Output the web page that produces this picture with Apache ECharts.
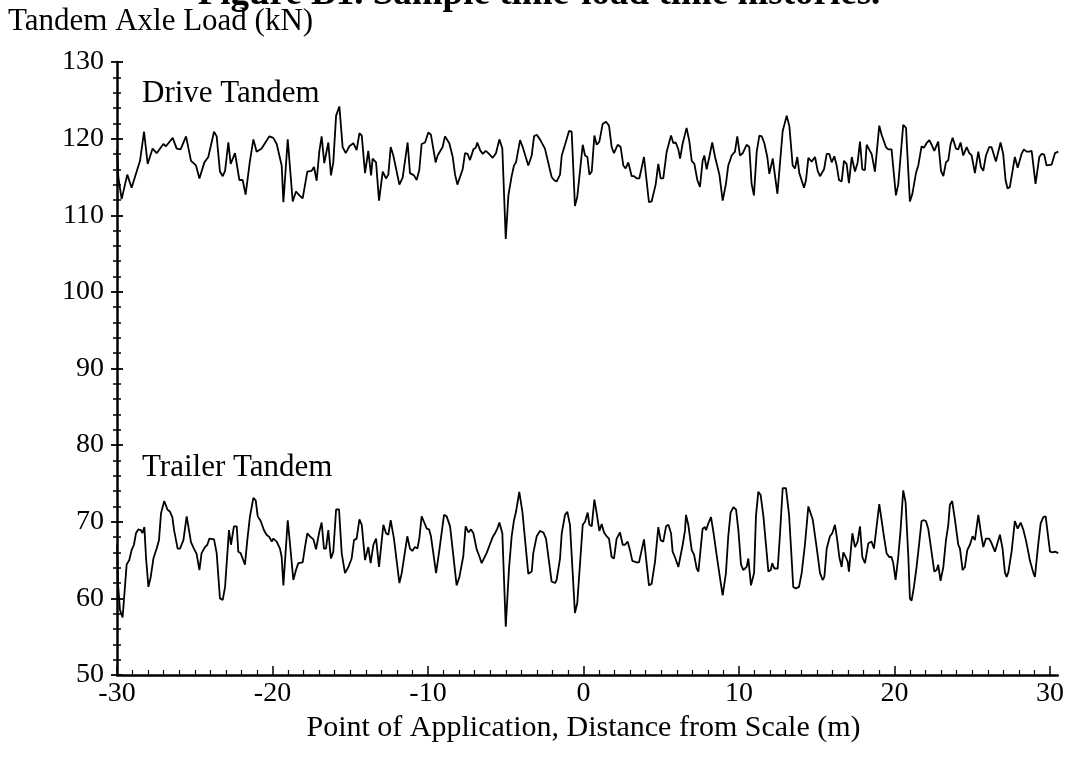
<!DOCTYPE html>
<html>
<head>
<meta charset="utf-8">
<script src="https://cdn.jsdelivr.net/npm/echarts@6/dist/echarts.min.js"></script>
<style>
html, body { margin: 0; padding: 0; background: #ffffff; }
#chart { width: 1072px; height: 769px; }
</style>
</head>
<body>
<div id="chart"></div>
<script>
// Drive tandem axle load along the approach to the scale
const driveDistance = [
  -30.00, -29.91, -29.70, -29.34, -29.06, -28.95, -28.52, -28.26, -28.03, -27.71,
  -27.45, -27.02, -26.85, -26.42, -26.16, -25.91, -25.56, -25.24, -24.92, -24.70,
  -24.38, -24.13, -23.76, -23.59, -23.38, -23.20, -23.05, -22.84, -22.69, -22.41,
  -22.13, -21.92, -21.73, -21.45, -21.23, -21.02, -20.70, -20.20, -19.95, -19.73,
  -19.41, -19.30, -19.02, -18.70, -18.49, -18.27, -18.06, -17.76, -17.48, -17.33,
  -17.16, -16.99, -16.84, -16.67, -16.56, -16.41, -16.24, -16.09, -15.91, -15.70,
  -15.49, -15.29, -15.06, -14.80, -14.59, -14.41, -14.26, -14.05, -13.84, -13.66,
  -13.56, -13.34, -13.15, -12.91, -12.70, -12.55, -12.40, -12.23, -11.84, -11.63,
  -11.31, -11.16, -10.90, -10.73, -10.56, -10.41, -10.19, -9.98, -9.81, -9.51,
  -9.38, -9.06, -8.91, -8.63, -8.41, -8.26, -8.11, -7.77, -7.62, -7.45,
  -7.30, -7.08, -6.93, -6.83, -6.65, -6.48, -6.29, -6.12, -6.01, -5.84,
  -5.63, -5.41, -5.22, -5.00, -4.83, -4.62, -4.47, -4.34, -4.08, -3.91,
  -3.55, -3.33, -3.18, -3.01, -2.80, -2.48, -2.37, -2.05, -1.90, -1.73,
  -1.51, -1.40, -1.19, -0.93, -0.76, -0.55, -0.40, -0.05, 0.10, 0.25,
  0.38, 0.53, 0.70, 0.85, 1.02, 1.23, 1.45, 1.64, 1.81, 1.96,
  2.20, 2.39, 2.56, 2.71, 2.88, 3.10, 3.25, 3.42, 3.59, 3.89,
  4.21, 4.38, 4.64, 4.81, 4.96, 5.13, 5.35, 5.63, 5.78, 5.93,
  6.10, 6.21, 6.38, 6.63, 6.81, 6.96, 7.13, 7.32, 7.49, 7.66,
  7.77, 7.92, 8.09, 8.28, 8.46, 8.74, 8.95, 9.16, 9.31, 9.53,
  9.74, 9.89, 10.06, 10.24, 10.49, 10.66, 10.81, 10.96, 11.14, 11.31,
  11.46, 11.63, 11.82, 11.95, 12.17, 12.47, 12.81, 13.07, 13.24, 13.45,
  13.60, 13.75, 13.88, 14.18, 14.31, 14.46, 14.67, 14.89, 15.06, 15.21,
  15.47, 15.64, 15.81, 15.96, 16.13, 16.28, 16.43, 16.60, 16.75, 16.92,
  17.07, 17.25, 17.35, 17.46, 17.63, 17.78, 17.93, 18.10, 18.21, 18.42,
  18.53, 18.74, 19.02, 19.17, 19.45, 19.60, 19.81, 20.09, 20.24, 20.56,
  20.74, 20.99, 21.14, 21.38, 21.53, 21.74, 21.89, 22.06, 22.24, 22.39,
  22.56, 22.81, 22.99, 23.14, 23.31, 23.46, 23.61, 23.74, 23.95, 24.10,
  24.25, 24.42, 24.64, 24.81, 24.96, 25.17, 25.39, 25.56, 25.71, 25.88,
  26.09, 26.24, 26.52, 26.82, 26.99, 27.14, 27.27, 27.42, 27.74, 27.92,
  28.17, 28.32, 28.49, 28.67, 28.82, 29.07, 29.31, 29.46, 29.63, 29.78,
  30.10, 30.32, 30.53
];
const driveLoad = [
  118.5, 114.9, 112.1, 115.3, 113.6, 113.7, 117.1, 120.9, 116.7, 118.7,
  118.1, 119.3, 119.0, 120.1, 118.7, 118.6, 120.3, 117.1, 116.5, 114.8,
  116.9, 117.6, 120.9, 120.3, 115.7, 115.1, 115.8, 119.5, 116.7, 118.1,
  114.6, 114.6, 112.7, 117.1, 119.9, 118.3, 118.7, 120.3, 120.1, 119.3,
  116.5, 111.7, 119.9, 111.8, 113.1, 112.6, 112.2, 115.7, 115.8, 116.3,
  114.5, 118.3, 120.3, 116.8, 116.9, 119.5, 115.2, 116.9, 123.0, 124.2,
  118.9, 118.1, 119.0, 119.4, 118.5, 120.7, 120.4, 115.5, 118.4, 115.2,
  117.4, 116.9, 111.9, 115.7, 114.8, 115.3, 118.9, 117.8, 114.0, 114.9,
  119.5, 115.5, 115.2, 114.6, 115.9, 119.3, 119.5, 120.8, 120.5, 116.9,
  117.8, 118.9, 120.3, 119.4, 117.6, 115.3, 114.0, 116.0, 118.1, 118.0,
  117.2, 118.6, 118.8, 119.5, 118.5, 118.0, 118.4, 118.1, 117.9, 117.5,
  118.1, 119.9, 118.7, 106.9, 112.6, 115.1, 116.5, 116.9, 119.8, 118.9,
  116.5, 117.8, 120.3, 120.5, 119.9, 118.7, 118.7, 115.0, 114.6, 114.4,
  115.3, 117.8, 119.2, 121.0, 120.9, 111.2, 112.4, 119.2, 117.8, 117.6,
  115.3, 115.7, 120.4, 119.2, 119.6, 121.9, 122.2, 121.7, 118.9, 118.1,
  119.2, 118.9, 116.5, 116.1, 116.9, 115.1, 115.1, 114.8, 114.8, 117.6,
  111.7, 111.8, 114.0, 116.7, 114.8, 114.8, 118.3, 120.4, 119.4, 119.5,
  118.6, 117.4, 119.4, 121.4, 119.6, 117.1, 116.7, 114.6, 113.7, 117.1,
  117.8, 116.0, 117.6, 119.5, 117.6, 115.3, 111.9, 114.1, 116.5, 117.8,
  118.3, 120.3, 117.8, 118.1, 119.2, 118.9, 114.1, 112.6, 118.3, 120.4,
  120.3, 119.4, 117.6, 115.4, 117.4, 112.8, 121.0, 123.0, 121.6, 116.5,
  116.1, 117.6, 115.5, 113.6, 114.6, 117.5, 117.0, 117.6, 115.8, 115.1,
  116.0, 118.0, 118.0, 116.9, 117.7, 116.5, 114.6, 114.4, 117.1, 116.7,
  114.2, 117.6, 117.8, 115.7, 116.9, 119.6, 116.0, 115.9, 119.2, 118.4,
  118.0, 115.7, 121.7, 120.5, 118.9, 118.6, 118.6, 112.6, 114.0, 121.8,
  121.4, 111.8, 112.7, 115.5, 116.5, 119.0, 118.8, 119.4, 119.8, 119.2,
  118.4, 119.6, 115.8, 115.1, 116.9, 117.2, 119.3, 120.1, 118.7, 118.6,
  119.5, 117.8, 118.9, 118.1, 117.8, 115.5, 118.3, 116.3, 115.8, 117.8,
  118.9, 118.9, 117.0, 119.5, 118.0, 114.6, 113.5, 113.7, 117.6, 116.2,
  118.0, 118.6, 118.3, 118.3, 118.4, 114.1, 117.6, 118.0, 117.9, 116.5,
  116.6, 118.1, 118.3
];

// Trailer tandem axle load along the approach to the scale
const trailerDistance = [
  -30.00, -29.92, -29.81, -29.64, -29.38, -29.21, -29.06, -28.91, -28.78, -28.63,
  -28.46, -28.37, -28.24, -28.13, -27.98, -27.83, -27.66, -27.45, -27.30, -27.17,
  -26.96, -26.76, -26.59, -26.44, -26.33, -26.10, -25.95, -25.73, -25.52, -25.37,
  -25.24, -25.05, -24.88, -24.70, -24.56, -24.34, -24.19, -24.06, -23.98, -23.76,
  -23.59, -23.38, -23.20, -23.05, -22.80, -22.67, -22.48, -22.30, -22.20, -22.05,
  -21.92, -21.77, -21.62, -21.45, -21.23, -21.08, -20.95, -20.76, -20.55, -20.38,
  -20.20, -20.05, -19.95, -19.73, -19.52, -19.41, -19.30, -19.02, -18.87, -18.66,
  -18.49, -18.34, -18.23, -18.06, -17.91, -17.76, -17.59, -17.37, -17.20, -16.99,
  -16.84, -16.69, -16.56, -16.41, -16.30, -16.24, -16.09, -15.91, -15.72, -15.55,
  -15.34, -15.12, -14.91, -14.76, -14.59, -14.41, -14.26, -14.05, -13.84, -13.69,
  -13.51, -13.34, -13.15, -12.87, -12.70, -12.55, -12.40, -12.19, -11.84, -11.69,
  -11.33, -11.16, -11.01, -10.83, -10.68, -10.56, -10.41, -10.26, -10.08, -9.93,
  -9.81, -9.48, -9.27, -8.97, -8.80, -8.58, -8.16, -7.98, -7.73, -7.58,
  -7.40, -7.23, -7.08, -6.87, -6.70, -6.55, -6.44, -6.23, -6.01, -5.84,
  -5.69, -5.54, -5.41, -5.22, -5.00, -4.79, -4.62, -4.47, -4.34, -4.13,
  -3.93, -3.55, -3.33, -3.23, -3.01, -2.80, -2.58, -2.41, -2.05, -1.83,
  -1.73, -1.51, -1.40, -1.19, -1.04, -0.87, -0.55, -0.40, -0.05, 0.10,
  0.27, 0.38, 0.53, 0.70, 0.85, 1.02, 1.17, 1.32, 1.49, 1.64,
  1.81, 1.96, 2.13, 2.35, 2.52, 2.67, 2.84, 2.99, 3.14, 3.25,
  3.42, 3.57, 3.89, 4.21, 4.38, 4.60, 4.81, 4.96, 5.13, 5.31,
  5.46, 5.63, 5.73, 5.88, 6.10, 6.21, 6.38, 6.53, 6.59, 6.74,
  6.96, 7.11, 7.28, 7.39, 7.49, 7.66, 7.81, 7.88, 8.03, 8.20,
  8.35, 8.61, 8.78, 8.95, 9.16, 9.31, 9.46, 9.64, 9.81, 9.96,
  10.13, 10.28, 10.49, 10.60, 10.77, 10.97, 11.09, 11.24, 11.39, 11.57,
  11.89, 12.04, 12.14, 12.27, 12.49, 12.64, 12.81, 13.02, 13.22, 13.49,
  13.66, 13.86, 14.03, 14.24, 14.46, 14.57, 14.74, 14.99, 15.21, 15.38,
  15.49, 15.64, 15.85, 16.00, 16.17, 16.32, 16.45, 16.60, 16.71, 16.86,
  16.99, 17.07, 17.29, 17.46, 17.63, 17.78, 17.93, 18.10, 18.32, 18.42,
  18.53, 18.68, 18.85, 19.02, 19.17, 19.32, 19.49, 19.66, 19.81, 19.92,
  20.07, 20.24, 20.39, 20.56, 20.71, 20.89, 20.99, 21.10, 21.25, 21.42,
  21.59, 21.74, 21.89, 22.02, 22.17, 22.34, 22.56, 22.71, 22.81, 22.96,
  23.14, 23.31, 23.46, 23.56, 23.71, 23.89, 24.10, 24.21, 24.38, 24.53,
  24.68, 24.85, 25.02, 25.17, 25.39, 25.56, 25.71, 25.88, 26.07, 26.20,
  26.46, 26.78, 26.95, 27.10, 27.21, 27.32, 27.53, 27.74, 27.92, 28.11,
  28.28, 28.45, 28.60, 28.71, 28.82, 28.92, 29.03, 29.14, 29.25, 29.40,
  29.57, 29.72, 30.00, 30.17, 30.32, 30.53
];
const trailerLoad = [
  67.0, 61.5, 58.5, 57.5, 64.4, 65.0, 66.3, 67.0, 68.5, 69.0,
  68.9, 68.5, 69.3, 65.2, 61.5, 62.8, 65.2, 66.5, 67.6, 71.1,
  72.7, 71.6, 71.3, 70.6, 68.9, 66.5, 66.5, 67.6, 70.7, 68.9,
  67.3, 66.5, 65.8, 63.7, 65.9, 66.7, 67.0, 67.8, 67.7, 67.7,
  65.9, 60.0, 59.8, 61.5, 68.9, 67.0, 69.4, 69.4, 66.1, 65.9,
  65.2, 64.4, 67.6, 70.7, 73.1, 72.8, 70.7, 70.1, 68.9, 68.3,
  68.0, 67.4, 67.8, 67.4, 66.5, 65.4, 61.7, 70.2, 67.0, 62.4,
  63.7, 64.6, 64.7, 64.7, 66.7, 68.5, 68.1, 67.7, 66.4, 68.7,
  69.9, 66.5, 66.5, 68.9, 66.3, 65.2, 66.1, 71.6, 71.6, 65.9,
  63.3, 64.1, 65.2, 67.6, 67.8, 70.3, 69.6, 65.0, 66.7, 64.6,
  67.0, 67.8, 64.1, 69.6, 68.5, 68.3, 70.2, 67.8, 62.0, 63.3,
  68.1, 66.5, 66.2, 66.7, 66.5, 67.8, 70.7, 70.0, 69.1, 69.0,
  68.1, 63.3, 66.3, 70.9, 70.7, 69.4, 61.7, 62.8, 65.5, 69.4,
  68.6, 69.0, 68.5, 66.4, 65.5, 64.6, 64.6, 65.9, 67.1, 68.0,
  68.5, 69.1, 69.9, 68.5, 56.3, 63.9, 68.1, 70.2, 71.3, 73.9,
  71.3, 63.2, 63.5, 65.9, 68.1, 68.8, 68.6, 67.8, 62.2, 62.0,
  62.4, 65.2, 68.5, 70.9, 71.3, 69.6, 58.1, 59.4, 69.6, 70.0,
  71.2, 69.6, 69.4, 72.9, 71.1, 68.8, 69.7, 68.6, 68.1, 67.8,
  65.4, 65.2, 67.8, 68.6, 67.0, 67.0, 67.4, 66.3, 64.9, 64.9,
  64.7, 64.7, 67.7, 61.7, 61.9, 64.8, 69.3, 67.6, 67.4, 69.4,
  69.6, 68.5, 66.1, 65.4, 64.1, 64.0, 67.0, 68.9, 70.9, 69.6,
  66.3, 65.7, 63.9, 63.5, 63.7, 69.1, 69.3, 68.9, 69.8, 70.6,
  68.7, 65.0, 62.6, 60.4, 63.3, 68.1, 71.2, 71.9, 71.6, 68.9,
  64.4, 63.7, 64.1, 65.2, 61.7, 63.3, 70.7, 73.9, 73.5, 70.7,
  63.5, 63.7, 64.6, 63.9, 63.9, 68.5, 74.4, 74.4, 70.9, 61.5,
  61.3, 61.5, 63.3, 67.0, 72.0, 71.9, 70.3, 66.7, 63.3, 62.4,
  62.8, 66.5, 68.1, 68.5, 69.6, 67.6, 65.4, 64.1, 66.0, 65.4,
  64.8, 63.5, 68.5, 66.7, 67.4, 69.4, 65.4, 64.6, 67.2, 67.2,
  67.4, 66.5, 69.4, 72.3, 70.2, 68.1, 65.9, 65.4, 65.4, 64.6,
  62.4, 65.4, 68.9, 74.1, 72.6, 65.4, 60.0, 59.7, 61.5, 64.1,
  67.2, 70.1, 70.2, 70.1, 69.1, 66.7, 63.5, 63.7, 64.4, 62.3,
  64.1, 67.6, 69.6, 72.2, 72.7, 70.2, 67.0, 66.5, 63.7, 64.1,
  66.3, 67.0, 68.1, 67.6, 70.9, 68.5, 66.7, 67.8, 67.8, 67.4,
  66.1, 68.3, 66.5, 63.4, 62.8, 63.4, 66.1, 70.1, 69.1, 69.9,
  69.0, 67.6, 66.1, 64.9, 64.8, 63.4, 62.8, 62.8, 67.2, 69.8,
  70.6, 70.7, 66.1, 66.0, 66.1, 65.9
];

// Axis ranges and labelled ticks
const distanceTicks = [-30, -20, -10, 0, 10, 20, 30];
const loadTicks = [50, 60, 70, 80, 90, 100, 110, 120, 130];

const serifFont = '"Liberation Serif", "Times New Roman", serif';
const zip = (xs, ys) => xs.map((x, i) => [x, ys[i]]);

// Plot frame in pixels
const plotLeft = 117;
const plotTop = 62;
const plotHeight = 613;
const tickSpanWidth = 933;
const pxPerMetre = tickSpanWidth / (distanceTicks[distanceTicks.length - 1] - distanceTicks[0]);
const dataMax = 30.5;
const dataWidth = pxPerMetre * (dataMax - distanceTicks[0]);

const chart = echarts.init(document.getElementById('chart'), null, { renderer: 'canvas' });

const plainText = (size) => ({ fontFamily: serifFont, fontWeight: 'normal', fontSize: size, color: '#000' });

const option = {
  backgroundColor: '#ffffff',
  animation: false,
  textStyle: { fontFamily: serifFont, color: '#000' },
  title: [
    { text: 'Tandem Axle Load (kN)', left: 3, top: 1, textStyle: plainText(31) },
    { text: 'Drive Tandem', left: 137, top: 73, textStyle: plainText(31) },
    { text: 'Trailer Tandem', left: 137, top: 447, textStyle: plainText(31) }
  ],
  graphic: [
    { type: 'text', x: 539, y: -24, silent: true,
      style: { text: 'Figure B1. Sample time-load time histories.', fill: '#000',
        font: 'bold 37px ' + serifFont, textAlign: 'center', align: 'center' } }
  ],
  grid: [
    // frame carrying the labelled ticks (-30 .. 30)
    { left: plotLeft, top: plotTop, width: tickSpanWidth, height: plotHeight },
    // frame carrying the data; its axis line runs a little past 30
    { left: plotLeft, top: plotTop, width: dataWidth, height: plotHeight }
  ],
  xAxis: [
    {
      gridIndex: 0, type: 'value', min: distanceTicks[0], max: distanceTicks[distanceTicks.length - 1], interval: 10,
      axisLine: { show: false, onZero: false },
      axisTick: { show: true, inside: true, length: 9, lineStyle: { color: '#000', width: 1.5 } },
      minorTick: { show: true, splitNumber: 10, length: 5, lineStyle: { color: '#000', width: 1.2 } },
      axisLabel: { show: true, margin: 5, fontFamily: serifFont, fontSize: 28, color: '#000' },
      splitLine: { show: false },
      name: 'Point of Application, Distance from Scale (m)', nameLocation: 'middle', nameGap: 38,
      nameTextStyle: { fontFamily: serifFont, fontSize: 30, color: '#000' }
    },
    {
      gridIndex: 1, type: 'value', min: distanceTicks[0], max: dataMax,
      axisLine: { show: true, onZero: false, lineStyle: { color: '#000', width: 2.5 } },
      axisTick: { show: false }, axisLabel: { show: false }, splitLine: { show: false }
    }
  ],
  yAxis: [
    {
      gridIndex: 0, type: 'value', min: loadTicks[0], max: loadTicks[loadTicks.length - 1], interval: 10,
      axisLine: { show: true, onZero: false, lineStyle: { color: '#000', width: 2.5 } },
      axisTick: { show: true, inside: false, length: 6, lineStyle: { color: '#000', width: 1.8 } },
      minorTick: { show: true, splitNumber: 5, length: 4, lineStyle: { color: '#000', width: 1.5 } },
      axisLabel: { show: true, margin: 13, fontFamily: serifFont, fontSize: 28, color: '#000' },
      splitLine: { show: false }
    },
    {
      // inner half of the crossing tick marks
      gridIndex: 0, type: 'value', min: loadTicks[0], max: loadTicks[loadTicks.length - 1], interval: 10,
      position: 'left',
      axisLine: { show: false, onZero: false },
      axisTick: { show: true, inside: true, length: 6, lineStyle: { color: '#000', width: 1.8 } },
      minorTick: { show: true, splitNumber: 5, length: 4, lineStyle: { color: '#000', width: 1.5 } },
      axisLabel: { show: false }, splitLine: { show: false }
    },
    {
      gridIndex: 1, type: 'value', min: loadTicks[0], max: loadTicks[loadTicks.length - 1],
      axisLine: { show: false, onZero: false }, axisTick: { show: false },
      axisLabel: { show: false }, splitLine: { show: false }
    }
  ],
  series: [
    {
      name: 'Drive Tandem', type: 'line', xAxisIndex: 1, yAxisIndex: 2,
      data: zip(driveDistance, driveLoad), showSymbol: false, symbol: 'none',
      lineStyle: { color: '#000', width: 1.8 }, clip: false
    },
    {
      name: 'Trailer Tandem', type: 'line', xAxisIndex: 1, yAxisIndex: 2,
      data: zip(trailerDistance, trailerLoad), showSymbol: false, symbol: 'none',
      lineStyle: { color: '#000', width: 1.8 }, clip: false
    }
  ]
};

chart.setOption(option);
</script>
</body>
</html>
